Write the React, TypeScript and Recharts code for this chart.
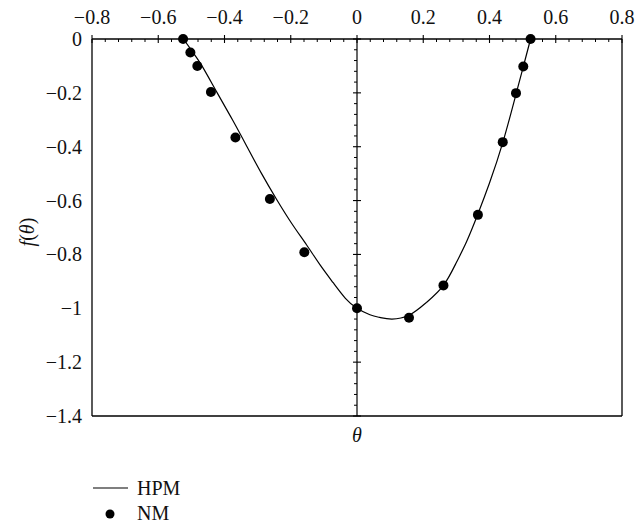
import { ComposedChart, Line, Scatter, XAxis, YAxis, ReferenceLine } from 'recharts';

// NM (numerical) points
const nmTheta = [-0.525, -0.503, -0.482, -0.441, -0.367, -0.263, -0.159, 0, 0.157, 0.261, 0.365, 0.44, 0.48, 0.502, 0.524];
const nmF = [0, -0.05, -0.1, -0.197, -0.366, -0.594, -0.792, -1.0, -1.035, -0.915, -0.653, -0.383, -0.201, -0.102, 0];

// HPM curve
const hpmTheta = [-0.524, -0.495, -0.468, -0.422, -0.376, -0.332, -0.288, -0.243, -0.197, -0.152, -0.112, -0.072, -0.035, 0, 0.039, 0.069, 0.105, 0.157, 0.21, 0.261, 0.3, 0.331, 0.365, 0.4, 0.44, 0.48, 0.502, 0.524];
const hpmF = [0, -0.05, -0.1, -0.2, -0.3, -0.4, -0.5, -0.595, -0.685, -0.765, -0.838, -0.905, -0.963, -1.0, -1.024, -1.034, -1.04, -1.026, -0.978, -0.915, -0.83, -0.752, -0.65, -0.535, -0.385, -0.205, -0.103, 0];

const xMajor = [-0.8, -0.6, -0.4, -0.2, 0, 0.2, 0.4, 0.6, 0.8];
const yMajor = [0, -0.2, -0.4, -0.6, -0.8, -1, -1.2, -1.4];

const FONT = '"Liberation Serif", "DejaVu Serif", serif';
const txt = { fontFamily: FONT, fontSize: 20, fill: '#111' };

const nmData = nmTheta.map((t, i) => ({ theta: t, f: nmF[i] }));
const hpmData = hpmTheta.map((t, i) => ({ theta: t, f: hpmF[i] }));

// 4 minor ticks between each pair of majors
function subdivide(major: number[]) {
  const out: number[] = [];
  for (let i = 0; i < major.length - 1; i++) {
    const a = major[i], b = major[i + 1];
    for (let k = 0; k < 5; k++) out.push(+(a + ((b - a) * k) / 5).toFixed(3));
  }
  out.push(major[major.length - 1]);
  return out;
}
const xTicks = subdivide(xMajor);
const yTicks = subdivide(yMajor);
const yTickData = yTicks.map(v => ({ theta: 0, f: v }));

const isMajor = (v: number) => Math.abs(v * 5 - Math.round(v * 5)) < 1e-6;
const fmt = (v: number) => (Math.abs(v) < 1e-9 ? '0' : (v < 0 ? '\u2212' : '') + String(Math.abs(v)));

function TopTick(props: any) {
  const { x, y, payload } = props;
  const major = isMajor(payload.value);
  return (
    <g>
      {major ? (
        <line x1={x} x2={x} y1={y - 4} y2={y + 4} stroke="#000" strokeWidth={1.1} />
      ) : (
        <line x1={x} x2={x} y1={y} y2={y + 3} stroke="#000" strokeWidth={1} />
      )}
      {major && (
        <text x={x} y={y - 15} textAnchor="middle" style={txt}>
          {fmt(payload.value)}
        </text>
      )}
    </g>
  );
}

function LeftTick(props: any) {
  const { x, y, payload } = props;
  return (
    <text x={x} y={y} dy="0.35em" textAnchor="end" style={txt}>
      {fmt(payload.value)}
    </text>
  );
}

function MidTick(props: any) {
  const { cx, cy, payload } = props;
  const major = isMajor(payload.f);
  return major ? (
    <line x1={cx - 4} x2={cx + 4} y1={cy} y2={cy} stroke="#000" strokeWidth={1.1} />
  ) : (
    <line x1={cx - 3} x2={cx} y1={cy} y2={cy} stroke="#000" strokeWidth={1} />
  );
}

function YLabel(props: any) {
  const vb = props.viewBox;
  const x = vb.x + 34;
  const y = 232;
  return (
    <text x={x} y={y} transform={`rotate(-90 ${x} ${y})`} textAnchor="middle" style={txt}>
      <tspan fontStyle="italic">f</tspan>
      <tspan>(</tspan>
      <tspan fontStyle="italic">θ</tspan>
      <tspan>)</tspan>
    </text>
  );
}

function ThetaLabel(props: any) {
  const vb = props.viewBox;
  return (
    <text x={vb.x + vb.width / 2} y={vb.y + 26} textAnchor="middle" fontStyle="italic" style={txt}>
      θ
    </text>
  );
}

export default function App() {
  return (
    <div style={{ position: 'absolute', left: 0, top: 0, width: 635, height: 529, background: '#fff', fontFamily: FONT }}>
      <ComposedChart width={635} height={529} margin={{ top: 0, right: 13, bottom: 113, left: 0 }} style={{ fontFamily: FONT }}>
        <XAxis
          xAxisId="top"
          orientation="top"
          type="number"
          dataKey="theta"
          domain={[-0.8, 0.8]}
          ticks={xTicks}
          interval={0}
          height={39}
          tickSize={0}
          tickMargin={0}
          tickLine={false}
          axisLine={{ stroke: '#000', strokeWidth: 1.3 }}
          tick={(p: any) => <TopTick {...p} />}
        />
        <YAxis
          type="number"
          dataKey="f"
          domain={[-1.4, 0]}
          ticks={yMajor}
          interval={0}
          width={92}
          tickSize={0}
          tickMargin={10}
          tickLine={false}
          axisLine={{ stroke: '#000', strokeWidth: 1.3 }}
          tick={(p: any) => <LeftTick {...p} />}
          label={{ content: (p: any) => <YLabel {...p} /> }}
        />
        <ReferenceLine xAxisId="top" x={0.8} stroke="#000" strokeWidth={1.3} />
        <ReferenceLine xAxisId="top" y={-1.4} stroke="#000" strokeWidth={1.3} label={{ content: (p: any) => <ThetaLabel {...p} /> }} />
        <ReferenceLine xAxisId="top" x={0} stroke="#000" strokeWidth={1.2} />
        <Scatter
          xAxisId="top"
          data={yTickData}
          dataKey="f"
          legendType="none"
          isAnimationActive={false}
          shape={(p: any) => <MidTick {...p} />}
        />
        <Line
          xAxisId="top"
          data={hpmData}
          dataKey="f"
          type="natural"
          dot={false}
          stroke="#000"
          strokeWidth={1.2}
          isAnimationActive={false}
        />
        <Scatter
          xAxisId="top"
          data={nmData}
          dataKey="f"
          fill="#000"
          isAnimationActive={false}
          shape={(p: any) => <circle cx={p.cx} cy={p.cy} r={5} fill="#000" />}
        />
      </ComposedChart>
      <div style={{ position: 'absolute', left: 93, top: 476, fontSize: 20, color: '#111', lineHeight: '25px' }}>
        <div style={{ display: 'flex', alignItems: 'center' }}>
          <svg width={44} height={25}>
            <line x1={0} x2={35} y1={12} y2={12} stroke="#000" strokeWidth={1.2} />
          </svg>
          <span>HPM</span>
        </div>
        <div style={{ display: 'flex', alignItems: 'center' }}>
          <svg width={44} height={25}>
            <circle cx={17} cy={13} r={4.5} fill="#000" />
          </svg>
          <span>NM</span>
        </div>
      </div>
    </div>
  );
}
